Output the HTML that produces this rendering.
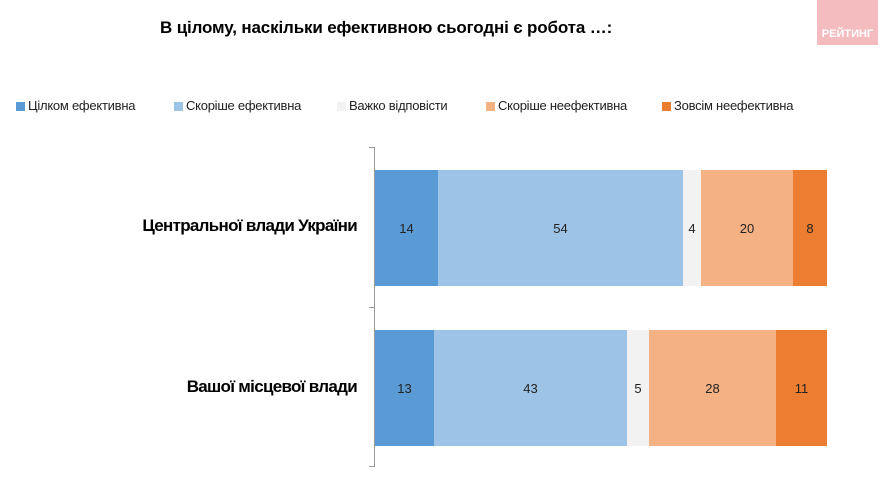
<!DOCTYPE html>
<html><head><meta charset="utf-8"><style>
body{margin:0;width:878px;height:487px;background:#fff;font-family:"Liberation Sans",sans-serif;position:relative;overflow:hidden}
.a{position:absolute}
.t{left:160px;top:18px;font-weight:bold;font-size:17px;color:#000;letter-spacing:-0.15px;white-space:nowrap}
.logo{left:817px;top:0;width:61px;height:45px;background:#f4bcbf;color:#fff;font-weight:bold;font-size:11px;text-align:center;line-height:14px}
.lg{top:98px;font-size:13px;color:#222;letter-spacing:-0.25px;white-space:nowrap}
.sq{width:9px;height:9px;top:102px}
.seg{top:0;height:116px;display:flex;align-items:center;justify-content:center;font-size:13px;color:#222}
.cat{font-weight:bold;font-size:17px;text-align:right;width:340px;left:17px;letter-spacing:-0.7px;white-space:nowrap}
</style></head><body>
<div class="a t">В цілому, наскільки ефективною сьогодні є робота …:</div>
<div class="a logo"><div style="margin-top:27px">РЕЙТИНГ</div></div>

<div class="a sq" style="left:16px;background:#5b9bd5"></div><div class="a lg" style="left:28px">Цілком ефективна</div>
<div class="a sq" style="left:174px;background:#9dc3e6"></div><div class="a lg" style="left:186px">Скоріше ефективна</div>
<div class="a sq" style="left:337px;background:#f2f2f2"></div><div class="a lg" style="left:349px">Важко відповісти</div>
<div class="a sq" style="left:486px;background:#f4b183"></div><div class="a lg" style="left:498px">Скоріше неефективна</div>
<div class="a sq" style="left:662px;background:#ed7d31"></div><div class="a lg" style="left:674px">Зовсім неефективна</div>

<div class="a" style="left:374px;top:147px;width:1px;height:320px;background:#999"></div>
<div class="a" style="left:369px;top:147px;width:5px;height:1px;background:#999"></div>
<div class="a" style="left:369px;top:307px;width:5px;height:1px;background:#999"></div>
<div class="a" style="left:369px;top:466px;width:5px;height:1px;background:#999"></div>

<div class="a cat" style="top:216px">Центральної влади України</div>
<div class="a cat" style="top:377px">Вашої місцевої влади</div>

<div class="a" style="left:375px;top:170px;width:452px;height:116px">
<div class="a seg" style="left:0;width:63px;background:#5b9bd5">14</div>
<div class="a seg" style="left:63px;width:245px;background:#9dc3e6">54</div>
<div class="a seg" style="left:308px;width:18px;background:#f2f2f2">4</div>
<div class="a seg" style="left:326px;width:92px;background:#f4b183">20</div>
<div class="a seg" style="left:418px;width:34px;background:#ed7d31">8</div>
</div>
<div class="a" style="left:375px;top:330px;width:452px;height:116px">
<div class="a seg" style="left:0;width:59px;background:#5b9bd5">13</div>
<div class="a seg" style="left:59px;width:193px;background:#9dc3e6">43</div>
<div class="a seg" style="left:252px;width:22px;background:#f2f2f2">5</div>
<div class="a seg" style="left:274px;width:127px;background:#f4b183">28</div>
<div class="a seg" style="left:401px;width:51px;background:#ed7d31">11</div>
</div>
</body></html>
